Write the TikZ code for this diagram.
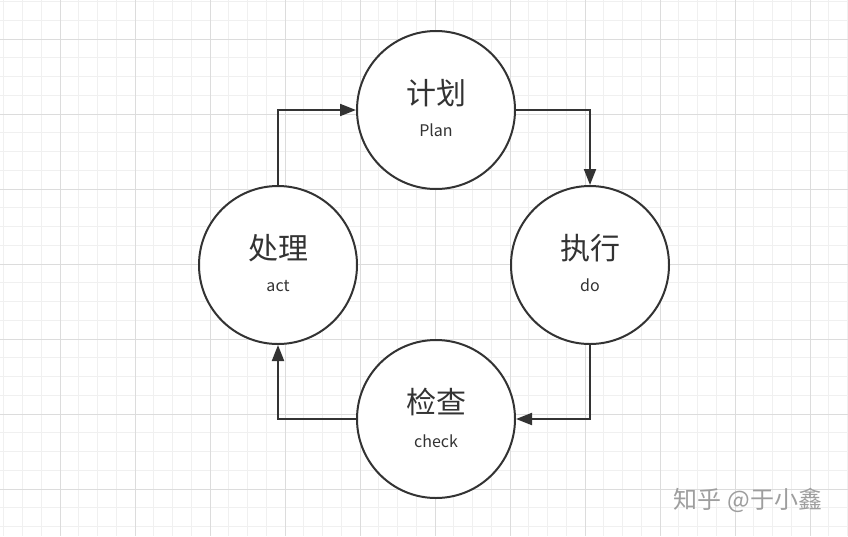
\documentclass[tikz,border=0pt]{standalone}
\usepackage{fontspec}
\setmainfont{Noto Sans CJK SC}
\usetikzlibrary{arrows.meta}
\definecolor{gridmajor}{HTML}{DCDCDC}
\definecolor{gridminor}{HTML}{F0F0F0}
\definecolor{ink}{HTML}{333333}
\tikzset{
    phase/.style={circle, draw=ink, line width=2pt, fill=white, minimum size=158pt, inner sep=0pt},
    zhtext/.style={text=ink, font=\fontsize{30}{36}\selectfont},
    entext/.style={text=ink, font=\fontsize{16}{19}\selectfont, anchor=base},
    flow/.style={draw=ink, line width=2pt, -{Triangle[length=16pt,width=12pt]}},
}
\begin{document}
\begin{tikzpicture}[x=1pt,y=-1pt]
        %% background grid
        \fill[white] (0,0) rectangle (848,536);
        \useasboundingbox (0,0) rectangle (848,536);
        \foreach \k in {-3,...,42}
            \draw[gridminor, line width=1pt] ({60+18.75*\k},0) -- ({60+18.75*\k},536);
        \foreach \k in {-2,...,26}
            \draw[gridminor, line width=1pt] (0,{39+18.75*\k}) -- (848,{39+18.75*\k});
        \foreach \k in {0,...,10}
            \draw[gridmajor, line width=1pt] ({60+75*\k},0) -- ({60+75*\k},536);
        \foreach \k in {0,...,6}
            \draw[gridmajor, line width=1pt] (0,{39+75*\k}) -- (848,{39+75*\k});
        %% the four phases
        \node[phase] (plan) at (436,110) {};
        \node[phase] (do) at (590,265) {};
        \node[phase] (check) at (436,419) {};
        \node[phase] (act) at (278,265) {};
        %% labels
        \node[zhtext] (planzh) at ([yshift=17pt]plan.center) {计划};
        \node[entext] (planen) at ([yshift=-26pt]plan.center) {Plan};
        \node[zhtext] (dozh) at ([yshift=17pt]do.center) {执行};
        \node[entext] (doen) at ([yshift=-26pt]do.center) {do};
        \node[zhtext] (checkzh) at ([yshift=17pt]check.center) {检查};
        \node[entext] (checken) at ([yshift=-28pt]check.center) {check};
        \node[zhtext] (actzh) at ([yshift=17pt]act.center) {处理};
        \node[entext] (acten) at ([yshift=-26pt]act.center) {act};
        %% cycle arrows
        \draw[flow] (plan.east) -| (do.north);
        \draw[flow] (do.south) |- (check.east);
        \draw[flow] (check.west) -| (act.south);
        \draw[flow] (act.north) |- (plan.west);
        %% watermark
        \node[text=black!38, font=\fontsize{24}{28}\selectfont] (mark) at (748,500) {知乎 @于小鑫};
    \end{tikzpicture}
\end{document}
